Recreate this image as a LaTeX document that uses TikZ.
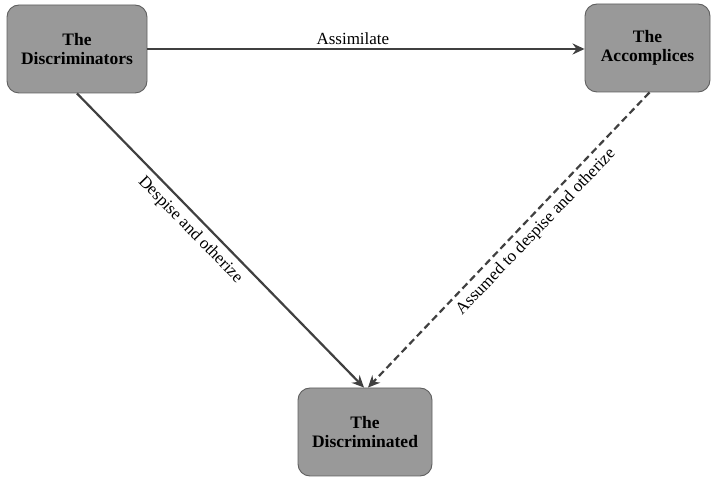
\documentclass[tikz,border=0pt]{standalone}
\usepackage{fontspec}
\setmainfont{Liberation Serif}
\usetikzlibrary{arrows.meta}
\definecolor{boxfill}{RGB}{153,153,153}
\definecolor{boxline}{RGB}{95,95,95}
\definecolor{arrowcol}{RGB}{64,64,64}
\tikzset{
  actor/.style={draw=boxline, line width=0.9pt, fill=boxfill, rounded corners=12pt,
    align=center, font=\bfseries\fontsize{17.5}{19}\selectfont, inner sep=0pt},
  conn/.style={draw=arrowcol, line width=2.2pt, -{Stealth[length=12pt,width=11pt,inset=4pt]}},
  dashconn/.style={conn, dash pattern=on 7pt off 4pt},
  lbl/.style={font=\fontsize{17}{19}\selectfont, text=black, inner sep=3pt},
  slbl/.style={lbl, sloped, below, inner sep=5.5pt}
}
\begin{document}
\begin{tikzpicture}[x=1pt,y=-1pt]
\useasboundingbox (0,0) rectangle (713,478);
\node[actor, minimum width=140pt, minimum height=88pt] (d) at (77,49) {The\\Discriminators};
\node[actor, minimum width=125pt, minimum height=88pt] (a) at (647.5,48) {The\\Accomplices};
\node[actor, minimum width=134pt, minimum height=88pt] (m) at (365,432) {The\\Discriminated};
\draw[conn] (d.east) -- node[lbl, above, pos=0.47] {Assimilate} (d.east -| a.west);
\draw[conn] (d.south) -- node[slbl, pos=0.43] {Despise and otherize} ([xshift=-1pt]m.north);
\draw[dashconn] ([xshift=2pt]a.south) -- node[slbl, pos=0.44] {Assumed to despise and otherize} ([xshift=3pt]m.north);
\end{tikzpicture}
\end{document}
